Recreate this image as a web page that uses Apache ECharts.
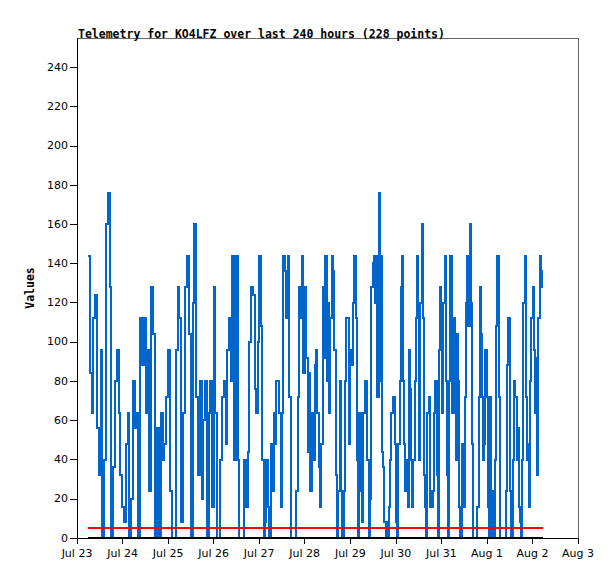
<!DOCTYPE html>
<html>
<head>
<meta charset="utf-8">
<script src="https://cdn.jsdelivr.net/npm/echarts@6/dist/echarts.min.js"></script>
<style>
  html, body { margin: 0; padding: 0; background: #fff; }
  #chart { width: 615px; height: 579px; }
  /* gnuplot png output is not anti-aliased */
  #chart svg path { shape-rendering: crispEdges; }
</style>
</head>
<body>
<div id="chart"></div>
<script>
// Day labels, one per 24 h from Jul 23 00:00
const dayLabels = ['Jul 23', 'Jul 24', 'Jul 25', 'Jul 26', 'Jul 27', 'Jul 28',
                   'Jul 29', 'Jul 30', 'Jul 31', 'Aug 1', 'Aug 2', 'Aug 3'];

// Hour marks where each chunk of readings begins / ends (hours after Jul 23 00:00)
const chunkHours = [5.8, 34.25, 64.81, 95.38, 125.94, 156.5, 187.07, 217.63, 245.56];

// Telemetry values
const valuesA = [144, 84, 64, 112, 124, 56, 32, 96, 0, 40, 160, 176, 128, 0, 36, 80, 96, 64, 32, 16,
                 8, 48, 64, 0, 20, 80, 56, 64, 0, 112];
const valuesB = [88, 112, 64, 96, 24, 128, 104, 0, 56, 0, 64, 40, 48, 72, 96, 24, 0, 0, 96, 128,
                 112, 8, 64, 128, 144, 104, 0, 120, 160, 72, 32];
const valuesC = [80, 20, 60, 80, 0, 64, 80, 16, 128, 64, 0, 0, 40, 72, 80, 48, 96, 112, 80, 144,
                 40, 144, 40, 0, 0, 0, 40, 16, 44, 100, 128, 124, 76, 64];
const valuesD = [100, 144, 108, 40, 0, 8, 40, 16, 0, 48, 24, 64, 48, 80, 80, 64, 16, 64, 144, 136,
                 112, 144, 72, 0, 0, 0, 0, 24, 72, 128, 112, 144, 84, 128, 92, 44, 84, 24, 64, 40, 88];
const valuesE = [96, 64, 36, 16, 48, 128, 92, 144, 80, 120, 64, 112, 144, 136, 96, 32, 0, 24, 80, 24,
                 0, 24, 80, 112, 112, 48, 96, 88, 120, 144, 112, 40, 0, 64, 24, 8, 64, 80, 80, 40,
                 0, 20, 128, 140];
const valuesF = [144, 120, 144, 72, 176, 80, 144, 44, 36, 8, 0, 8, 0, 16, 40, 64, 72, 72, 48, 8,
                 0, 48, 80, 128, 144, 80, 48, 24, 40, 16, 96, 76, 40, 16, 40, 80, 112, 144, 120, 40,
                 120, 160, 112, 32, 16, 0, 64, 72, 16, 24];
const valuesG = [16, 24, 64, 80, 32, 0, 96, 128, 112, 64, 120, 144, 80, 32, 0, 80, 144, 144, 64, 112,
                 96, 40, 104, 80, 16, 0, 48, 24, 16, 72, 120, 144, 108, 160, 120, 48, 0, 0, 0, 0,
                 16, 72, 128, 104, 72, 40, 48, 96, 72, 16, 0];
const valuesH = [72, 0, 24, 0, 40, 108, 144, 144, 72, 0, 0, 0, 0, 0, 24, 88, 112, 24, 0, 0,
                 40, 80, 72, 40, 56, 16, 8, 0, 40, 120, 144, 72, 40, 48, 16, 80, 112, 128, 96, 64,
                 92, 32, 112, 144, 136, 128, 128];

// Reference lines
const redLevel = 5;
const baseLevel = 0;

// Readings placed evenly in time inside each chunk
function buildPoints() {
    const chunks = [valuesA, valuesB, valuesC, valuesD, valuesE, valuesF, valuesG, valuesH];
    const pts = [];
    chunks.forEach((vals, c) => {
        const t0 = chunkHours[c];
        const t1 = chunkHours[c + 1];
        const last = c === chunks.length - 1;
        const step = (t1 - t0) / (last ? vals.length - 1 : vals.length);
        vals.forEach((v, i) => pts.push([t0 + i * step, v]));
    });
    return pts;
}

const telemetry = buildPoints();
const tStart = chunkHours[0];
const tEnd = chunkHours[chunkHours.length - 1];

const chart = echarts.init(document.getElementById('chart'), null, { renderer: 'svg' });
chart.setOption({
    animation: false,
    title: {
        text: 'Telemetry for KO4LFZ over last 240 hours (228 points)',
        left: 73, top: 23,
        textStyle: { fontFamily: 'DejaVu Sans Mono', fontWeight: 'bold', fontSize: 11.5, color: '#000' }
    },
    grid: {
        left: 77, right: 37, top: 38, bottom: 41,
        show: true, borderColor: '#666', borderWidth: 1, backgroundColor: 'transparent'
    },
    xAxis: {
        type: 'value', min: 0, max: 264, interval: 24,
        axisLine: { lineStyle: { color: '#000', width: 1 } },
        axisTick: { length: 6, lineStyle: { color: '#000' } },
        axisLabel: {
            color: '#000', fontFamily: 'DejaVu Sans', fontSize: 11, margin: 10,
            formatter: v => dayLabels[Math.round(v / 24)] || ''
        },
        splitLine: { show: false }
    },
    yAxis: {
        type: 'value', min: 0, max: 255, interval: 20,
        name: 'Values', nameLocation: 'middle', nameGap: 38, nameRotate: 90,
        nameTextStyle: { fontFamily: 'DejaVu Sans Mono', fontWeight: 'bold', fontSize: 11.5, color: '#000' },
        axisLine: { show: true, lineStyle: { color: '#000', width: 1 } },
        axisTick: { show: true, length: 7, lineStyle: { color: '#000' } },
        axisLabel: { color: '#000', fontFamily: 'DejaVu Sans', fontSize: 11, margin: 9, showMaxLabel: false },
        splitLine: { show: false }
    },
    series: [
        {
            type: 'line', step: 'end', data: telemetry, showSymbol: false,
            lineStyle: { color: '#0066cc', width: 2, join: 'miter', cap: 'butt' }, z: 2
        },
        {
            type: 'line', data: [[tStart, redLevel], [tEnd, redLevel]], showSymbol: false,
            lineStyle: { color: '#ff0000', width: 2 }, z: 3
        },
        {
            type: 'line', data: [[tStart, baseLevel], [tEnd, baseLevel]], showSymbol: false,
            lineStyle: { color: '#000', width: 2 }, z: 4
        }
    ]
});
</script>
</body>
</html>
